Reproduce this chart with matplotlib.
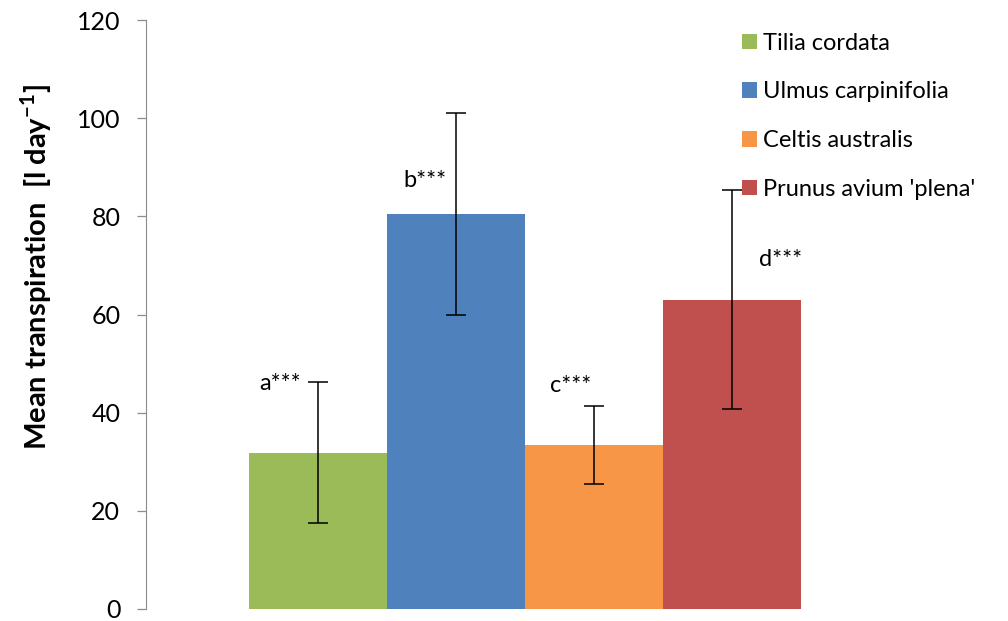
import matplotlib
matplotlib.use('Agg')
import matplotlib.pyplot as plt
from matplotlib.patches import Patch

plt.rcParams['font.family'] = ['Lato', 'DejaVu Sans']

species = ['Tilia cordata', 'Ulmus carpinifolia', 'Celtis australis', "Prunus avium 'plena'"]
means = [31.8, 80.4, 33.4, 62.9]
err_hi = [46.2, 101.0, 41.3, 85.3]
err_lo = [17.5, 59.9, 25.5, 40.7]
colors = ['#9BBB59', '#4F81BD', '#F79646', '#C0504D']
sig_labels = ['a***', 'b***', 'c***', 'd***']
sig_pos = [(-0.275, 46.0), (0.775, 87.4), (1.833, 45.6), (3.35, 71.3)]

fig = plt.figure(figsize=(10.08, 6.21), dpi=100)
ax = fig.add_axes([146 / 1008, 12 / 621, 758 / 1008, 589 / 621])

x = list(range(len(species)))
yerr = [[m - lo for m, lo in zip(means, err_lo)],
        [hi - m for m, hi in zip(means, err_hi)]]
ax.bar(x, means, width=1.0, color=colors, edgecolor='none')
ax.errorbar(x, means, yerr=yerr, fmt='none', ecolor='black', elinewidth=1.1,
            capsize=7, capthick=1.1)

for (tx, ty), lab in zip(sig_pos, sig_labels):
    ax.text(tx, ty, lab, ha='center', va='center', fontsize=17)

ax.set_xlim(-1.246, 4.246)
ax.set_ylim(0, 120)
ax.set_yticks([0, 20, 40, 60, 80, 100, 120])
ax.set_xticks([])
for s in ['top', 'right', 'bottom']:
    ax.spines[s].set_visible(False)
ax.spines['left'].set_color('#8c8c8c')
ax.tick_params(axis='y', direction='out', length=6.5, width=0.9, color='#8c8c8c',
               labelsize=18, pad=12)

ax.set_ylabel('Mean transpiration  [l day$^{\\mathregular{-1}}$]', fontsize=21,
              fontweight='bold')
ax.yaxis.set_label_coords(-0.122, 0.58)

handles = [Patch(facecolor=c, edgecolor='none') for c in colors]
fig.legend(handles, species, loc='upper left', bbox_to_anchor=(732.6 / 1008, 1 - 23.4 / 621),
           frameon=False, fontsize=17, handlelength=0.64, handleheight=0.64,
           handletextpad=0.25, labelspacing=1.17, borderaxespad=0)

fig.savefig('out.png', dpi=100)
